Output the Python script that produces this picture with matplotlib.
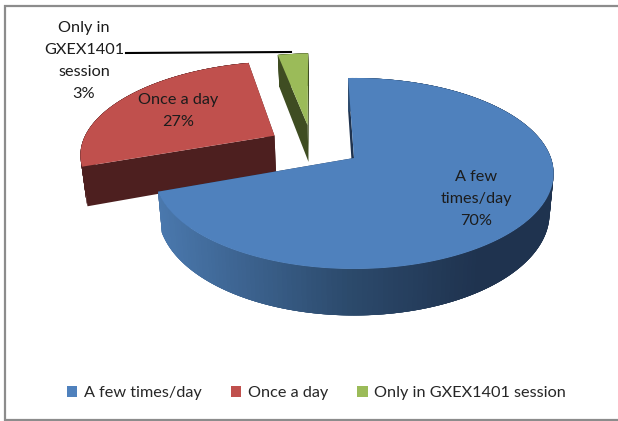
import numpy as np
import matplotlib
matplotlib.use('Agg')
import matplotlib.pyplot as plt
from matplotlib.patches import Patch, Rectangle

categories = ['A few times/day', 'Once a day', 'Only in GXEX1401 session']
values = [70, 27, 3]
labels = ['A few\ntimes/day\n70%', 'Once a day\n27%', 'Only in\nGXEX1401\nsession\n3%']
colors = ['#4f81bd', '#c0504d', '#9bbb59']
side_colors = ['#2c4a6e', '#4d1f1f', '#3f4d22']

# pie projection, in pixels
cx, cy = 354, 158
a, b = 197, 93
k = 0.162        # perspective
depth = 39
shrink = 0.98    # bottom ring is a bit narrower
start = 92
# how far each slice is pulled out (pie units)
offsets = [(0, 0), (-0.42, 0.25), (-0.25, 0.375)]


def project(u, v, down=False):
    w = 1 + k * v
    sx = a * u / w
    sy = cy - b * v / w
    if down:
        sx = sx * shrink
        sy = sy + depth / w
    return cx + sx, sy


def rim_color(x):
    # blue side goes from lighter on the left to dark on the right
    stops = [matplotlib.colors.to_rgb(c) for c in ['#4a78ad', '#2c4a6c', '#1f334f']]
    return [np.interp(x, [160, 350, 480], [s[n] for s in stops]) for n in range(3)]


fig = plt.figure(figsize=(6.18, 4.21), dpi=100)
ax = fig.add_axes([0, 0, 1, 1])
ax.set_xlim(0, 618)
ax.set_ylim(421, 0)
ax.axis('off')
plt.rcParams['font.family'] = ['Lato', 'DejaVu Sans']

ax.add_patch(Rectangle((4.5, 6), 700, 413.5, fc='white', ec='#8c8c8c', lw=1.6))

# slice angles from the values, clockwise from the start angle
ends = start - np.cumsum(values) * 3.6
begins = np.r_[start, ends[:-1]]

for i in [2, 1, 0]:
    du, dv = offsets[i]
    th = np.radians(np.linspace(begins[i], ends[i], 200))
    u = du + np.cos(th)
    v = dv + np.sin(th)
    # cut walls
    for t in [th[0], th[-1]]:
        pts = [project(du, dv), project(du + np.cos(t), dv + np.sin(t)),
               project(du + np.cos(t), dv + np.sin(t), True), project(du, dv, True)]
        ax.fill(*zip(*pts), color='#1f334f' if i == 0 else side_colors[i], lw=0)
    # outer rim, quads overlap so no seams show
    for j in range(len(th) - 1):
        j2 = min(j + 4, len(th) - 1)
        p0 = project(u[j], v[j])
        p1 = project(u[j2], v[j2])
        p2 = project(u[j2], v[j2], True)
        p3 = project(u[j], v[j], True)
        c = rim_color(p0[0]) if i == 0 else side_colors[i]
        ax.fill(*zip(p0, p1, p2, p3), color=c, lw=0)
    # top face
    xs, ys = project(np.r_[du, u], np.r_[dv, v])
    ax.fill(xs, ys, color=colors[i], lw=0)

txt = '#1c1c1c'
ax.text(476, 199, labels[0], ha='center', va='center', fontsize=11.7, color=txt, linespacing=1.75)
ax.text(178, 111, labels[1], ha='center', va='center', fontsize=11.7, color=txt, linespacing=1.75)
ax.text(84, 61, labels[2], ha='center', va='center', fontsize=11.7, color=txt, linespacing=1.75)

# leader line for the small slice
ax.plot([126, 291], [53, 52], color='black', lw=1.5)

handles = [Patch(fc=c, ec='none') for c in colors]
ax.legend(handles, categories, loc='center', bbox_to_anchor=(316.5 / 618, 1 - 393 / 421), ncol=3,
          frameon=False, fontsize=11.7, handlelength=0.65, handleheight=0.65, handletextpad=0.4,
          columnspacing=1.8, labelcolor='#262626')

fig.savefig('out.png', dpi=100)
